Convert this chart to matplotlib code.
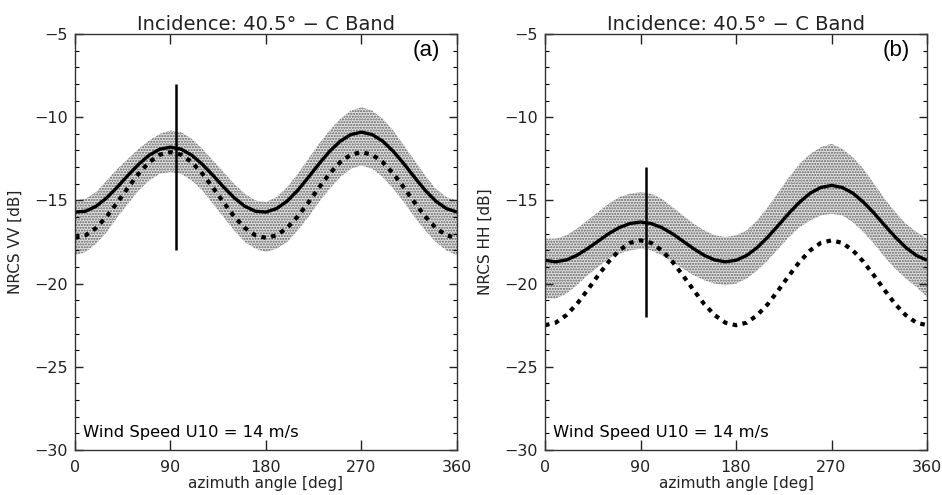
import numpy as np
import matplotlib
matplotlib.use("Agg")
import matplotlib.pyplot as plt
from matplotlib.ticker import MultipleLocator

azimuth = list(range(0, 361, 10))

# panel (a) VV : solid = model fit, dashed = reference model
vv_solid = [-15.70, -15.65, -15.35, -14.84, -14.19, -13.49, -12.83, -12.28, -11.92, -11.80,
            -11.92, -12.28, -12.83, -13.49, -14.19, -14.84, -15.35, -15.65, -15.70,
            -15.49, -15.04, -14.39, -13.61, -12.80, -12.05, -11.44, -11.04, -10.90,
            -11.04, -11.44, -12.05, -12.80, -13.61, -14.39, -15.04, -15.49, -15.70]
vv_dashed = [-17.25, -17.10, -16.65, -15.96, -15.12, -14.23, -13.39, -12.70, -12.25, -12.10,
             -12.25, -12.70, -13.39, -14.23, -15.12, -15.96, -16.65, -17.10, -17.25,
             -17.10, -16.65, -15.96, -15.12, -14.23, -13.39, -12.70, -12.25, -12.10,
             -12.25, -12.70, -13.39, -14.23, -15.12, -15.96, -16.65, -17.10, -17.25]
# envelope of the measured points cloud
vv_cloud_hi = [-15.0, -14.9, -14.5, -13.8, -13.1, -12.5, -11.9, -11.4, -11.0, -10.8,
               -10.9, -11.3, -11.9, -12.6, -13.3, -14.0, -14.6, -15.0, -15.1,
               -14.8, -14.2, -13.4, -12.5, -11.6, -10.8, -10.1, -9.6, -9.4,
               -9.6, -10.1, -10.8, -11.7, -12.6, -13.5, -14.3, -14.8, -15.0]
vv_cloud_lo = [-18.3, -18.1, -17.6, -16.9, -16.0, -15.2, -14.4, -13.8, -13.4, -13.3,
               -13.4, -13.8, -14.4, -15.2, -16.0, -16.8, -17.5, -17.9, -18.1,
               -17.9, -17.5, -16.8, -16.0, -15.1, -14.3, -13.6, -13.1, -12.9,
               -13.1, -13.6, -14.3, -15.1, -16.0, -16.8, -17.5, -18.0, -18.3]

# panel (b) HH
hh_solid = [-18.60, -18.69, -18.58, -18.30, -17.90, -17.45, -17.00, -16.63, -16.39, -16.30,
            -16.39, -16.63, -17.00, -17.45, -17.90, -18.30, -18.58, -18.69, -18.60,
            -18.31, -17.83, -17.20, -16.49, -15.76, -15.10, -14.56, -14.22, -14.10,
            -14.22, -14.56, -15.10, -15.76, -16.49, -17.20, -17.83, -18.31, -18.60]
hh_dashed = [-22.50, -22.35, -21.90, -21.23, -20.39, -19.51, -18.68, -18.00, -17.55, -17.40,
             -17.55, -18.00, -18.68, -19.51, -20.39, -21.23, -21.90, -22.35, -22.50,
             -22.35, -21.90, -21.23, -20.39, -19.51, -18.68, -18.00, -17.55, -17.40,
             -17.55, -18.00, -18.68, -19.51, -20.39, -21.23, -21.90, -22.35, -22.50]
hh_cloud_hi = [-17.3, -17.3, -17.1, -16.7, -16.2, -15.7, -15.2, -14.8, -14.6, -14.5,
               -14.6, -14.9, -15.4, -15.9, -16.4, -16.8, -17.1, -17.2, -17.1,
               -16.8, -16.2, -15.4, -14.5, -13.6, -12.8, -12.2, -11.8, -11.6,
               -11.9, -12.4, -13.1, -14.0, -14.9, -15.7, -16.4, -16.9, -17.3]
hh_cloud_lo = [-20.9, -20.9, -20.6, -20.1, -19.5, -19.0, -18.5, -18.2, -18.0, -17.9,
               -18.0, -18.3, -18.7, -19.1, -19.5, -19.8, -20.0, -20.1, -20.0,
               -19.7, -19.2, -18.6, -17.9, -17.2, -16.6, -16.2, -15.9, -15.8,
               -15.9, -16.3, -16.9, -17.6, -18.4, -19.1, -19.7, -20.2, -20.8]

# vertical marker (azimuth, bottom, top)
vv_marker = (95, -18.0, -8.0)
hh_marker = (95, -22.0, -13.0)

panels = [
    ("(a)", "NRCS VV [dB]", vv_solid, vv_dashed, vv_cloud_lo, vv_cloud_hi, vv_marker),
    ("(b)", "NRCS HH [dB]", hh_solid, hh_dashed, hh_cloud_lo, hh_cloud_hi, hh_marker),
]

plt.rcParams['font.family'] = 'DejaVu Sans'
plt.rcParams['hatch.linewidth'] = 1.0

fig = plt.figure(figsize=(9.42, 4.95), dpi=100)
lefts = [0.0796, 0.5786]

for left, (tag, ylab, solid, dashed, lo, hi, marker) in zip(lefts, panels):
    ax = fig.add_axes([left, 0.0909, 0.4055, 0.8404])

    # point cloud drawn as stipple between its envelopes
    ax.fill_between(azimuth, lo, hi, facecolor='0.88', edgecolor='0.38',
                    hatch='......', linewidth=0)

    ax.plot(azimuth, solid, color='black', lw=2.4, solid_capstyle='butt')
    ax.plot(azimuth, dashed, color='black', lw=3.0, dashes=(1.1, 1.3))
    ax.vlines(marker[0], marker[1], marker[2], color='black', lw=1.8)

    ax.set_xlim(0, 360)
    ax.set_ylim(-30, -5)
    ax.set_xticks([0, 90, 180, 270, 360])
    ax.yaxis.set_major_locator(MultipleLocator(5))
    ax.yaxis.set_minor_locator(MultipleLocator(1))
    ax.tick_params(axis='x', which='major', direction='in', top=True, length=7,
                   width=1, labelsize=11.5, pad=7, colors='#222222')
    ax.tick_params(axis='y', which='major', direction='in', right=True, length=6,
                   width=1, labelsize=11.5, pad=5, colors='#222222')
    ax.tick_params(axis='y', which='minor', direction='in', right=True, length=3, width=0.8)
    ax.set_yticklabels(['\u2212%d' % -v for v in ax.get_yticks()])
    for sp in ax.spines.values():
        sp.set_linewidth(1.0)
        sp.set_color('#333333')

    ax.set_title('Incidence: 40.5\u00b0 \u2212 C Band', fontsize=14, pad=3, color='#222222')
    ax.set_xlabel('azimuth angle [deg]', fontsize=11, labelpad=1, color='#222222')
    ax.set_ylabel(ylab, fontsize=11, labelpad=8, color='#222222')
    ax.text(0.955, 0.985, tag, transform=ax.transAxes, ha='right', va='top',
            fontsize=16, family='Liberation Sans')
    ax.text(0.02, 0.025, 'Wind Speed U10 = 14 m/s', transform=ax.transAxes,
            ha='left', va='bottom', fontsize=11.8)

fig.savefig('out.png', dpi=100)
